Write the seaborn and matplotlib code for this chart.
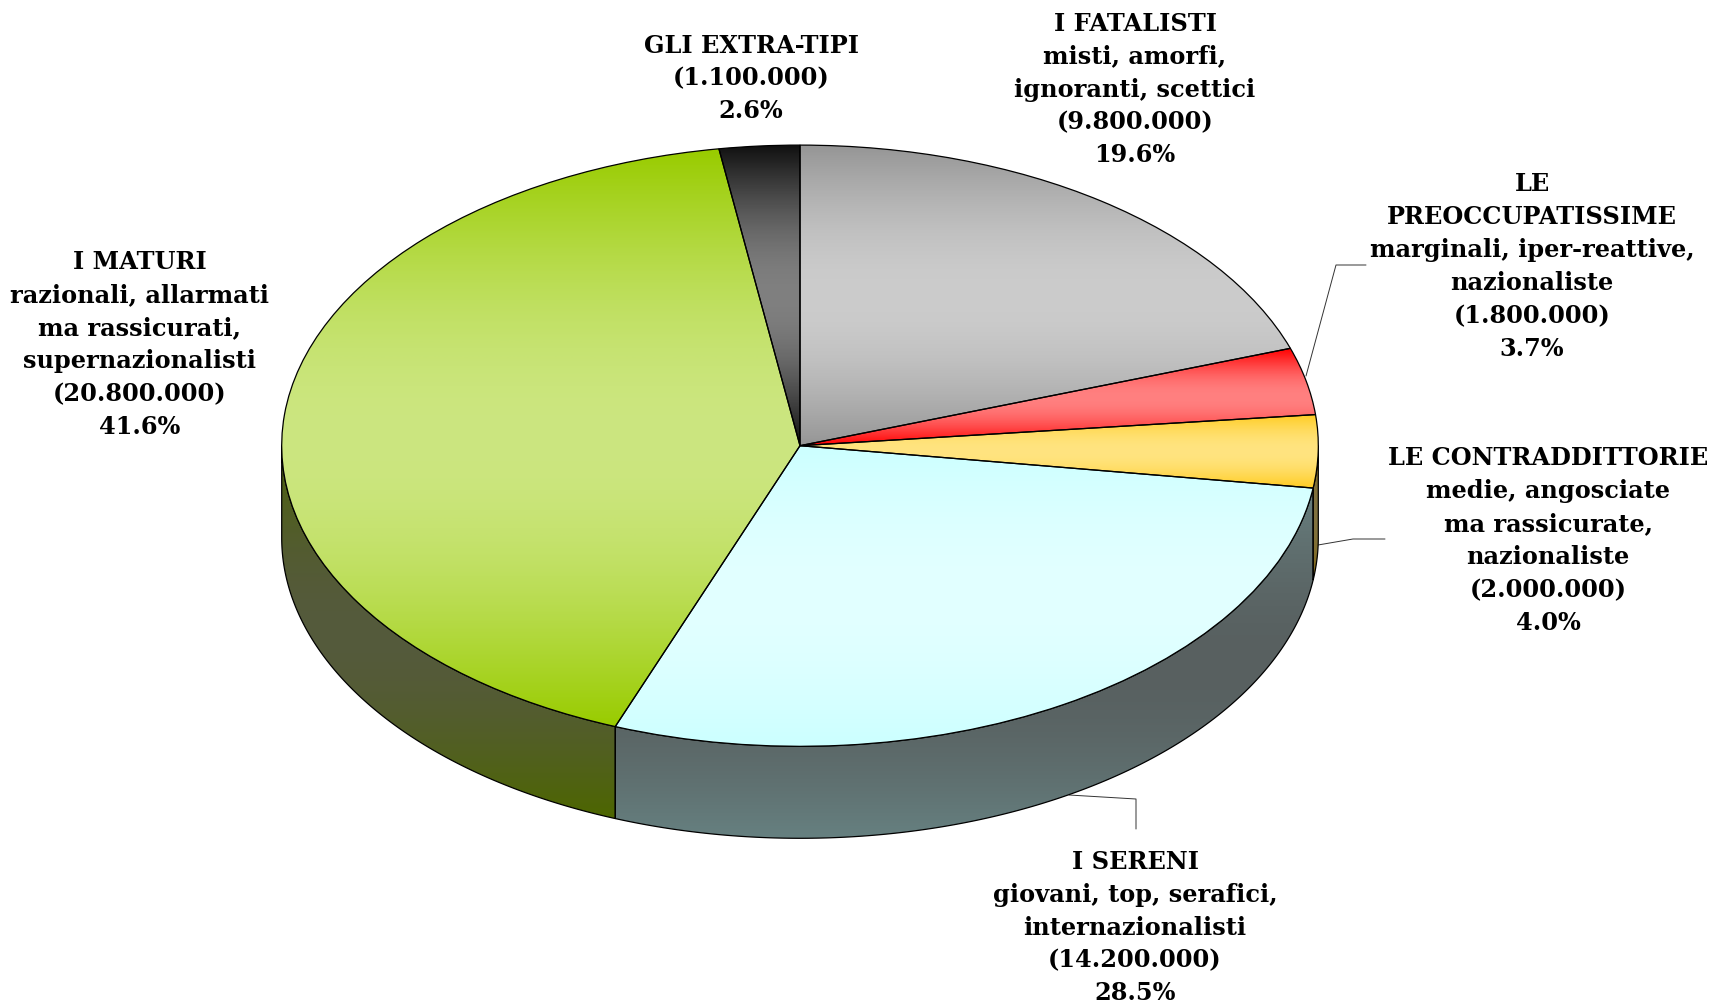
import numpy as np
import matplotlib
matplotlib.use("Agg")
import matplotlib.pyplot as plt
import seaborn as sns

# chart data, clockwise from 12 o'clock
names = ['I FATALISTI', 'LE\nPREOCCUPATISSIME', 'LE CONTRADDITTORIE', 'I SERENI', 'I MATURI', 'GLI EXTRA-TIPI']
descriptions = ['misti, amorfi,\nignoranti, scettici',
                'marginali, iper-reattive,\nnazionaliste',
                'medie, angosciate\nma rassicurate,\nnazionaliste',
                'giovani, top, serafici,\ninternazionalisti',
                'razionali, allarmati\nma rassicurati,\nsupernazionalisti',
                '']
counts = ['9.800.000', '1.800.000', '2.000.000', '14.200.000', '20.800.000', '1.100.000']
percents = [19.6, 3.7, 4.0, 28.5, 41.6, 2.6]
# slice sizes as measured on the picture, they differ a little from the printed percents
slice_shares = [19.75, 3.6, 3.9, 28.55, 41.7, 2.5]

# gradient stops of the top face and of the side wall
top_stops = [['#969696', '#cccccc', '#969696'],
             ['#ff0000', '#ff8080', '#ff0000'],
             ['#ffcc22', '#ffe480', '#ffcc22'],
             ['#ccffff', '#e2ffff', '#ccffff'],
             ['#99cc00', '#cce680', '#99cc00'],
             ['#111111', '#808080', '#111111']]
wall_stops = [['#4b4b4b', '#666666', '#4b4b4b'],
              ['#800000', '#804040', '#800000'],
              ['#806611', '#807240', '#806611'],
              ['#668080', '#586060', '#688080'],
              ['#4d6600', '#555a3c', '#4c6208'],
              ['#111111', '#404040', '#111111']]

W, H = 1711, 1005
CX, CY = 800, 445.7
RX, RY = 518.3, 300.6
DEPTH = 92 / RY

# label centres and leader lines in picture pixels
label_xy = [(1135, 89.5), (1532, 266.5), (1548, 540.5), (1135, 927.5), (140, 344.5), (751, 78.5)]
leaders = [[(1306, 376), (1336, 265), (1366, 265)],
           [(1318, 545), (1353, 539), (1385, 539)],
           [(1069, 795), (1136, 799), (1136, 829)]]


def px(x, y):
    return (x - CX) / RX, (CY - y) / RY


def fill_gradient(ax, patch, stops, zorder):
    cmap = sns.blend_palette(stops, n_colors=256, as_cmap=True)
    box = patch.get_path().get_extents(patch.get_patch_transform())
    # rounded around the middle stop so there is no crease in the band
    g = np.linspace(0, 1, 256)
    v = np.where(g < 0.5, 0.5 * np.sin(np.pi * g), 1 - 0.5 * np.sin(np.pi * g))
    img = ax.imshow(v.reshape(-1, 1), cmap=cmap, origin='lower', aspect='auto', vmin=0, vmax=1,
                    extent=(box.x0, box.x1, box.y0, box.y1), interpolation='bilinear', zorder=zorder)
    img.set_clip_path(patch)


def main():
    sns.set_theme(style='white')
    plt.rcParams['font.family'] = ['DejaVu Serif']

    fig = plt.figure(figsize=(W / 100, H / 100), dpi=100, facecolor='white')
    ax = fig.add_axes([0, 0, 1, 1])

    wedges, _ = ax.pie(slice_shares, startangle=90, counterclock=False, radius=1, center=(0, 0),
                       colors=[s[0] for s in top_stops],
                       wedgeprops=dict(edgecolor='black', linewidth=0.9))

    # side walls, only the part of each slice on the front half
    for wedge, stops in zip(wedges, wall_stops):
        th1 = max(wedge.theta1, -180)
        th2 = min(wedge.theta2, 0)
        if th1 >= th2:
            continue
        t = np.radians(np.linspace(th1, th2, 200))
        xs = np.r_[np.cos(t), np.cos(t[::-1])]
        ys = np.r_[np.sin(t), np.sin(t[::-1]) - DEPTH]
        wall = ax.fill(xs, ys, facecolor='none', edgecolor='black', linewidth=0.9, zorder=0.7)[0]
        fill_gradient(ax, wall, stops, 0.5)

    for wedge, stops in zip(wedges, top_stops):
        wedge.set_facecolor('none')
        wedge.set_zorder(2)
        fill_gradient(ax, wedge, stops, 1)

    for pts in leaders:
        xy = [px(*p) for p in pts]
        ax.plot([p[0] for p in xy], [p[1] for p in xy], color='#333333', lw=0.7, zorder=0.4)

    for name, desc, count, pct, pos in zip(names, descriptions, counts, percents, label_xy):
        lines = [name, desc, '(%s)' % count, '%.1f%%' % pct]
        txt = '\n'.join(l for l in lines if l)
        x, y = px(*pos)
        ax.text(x, y, txt, ha='center', va='center', ma='center', fontsize=17.3,
                fontweight='bold', color='black', linespacing=1.47, zorder=3)

    ax.set_xlim(-CX / RX, (W - CX) / RX)
    ax.set_ylim((CY - H) / RY, CY / RY)
    ax.set_aspect('auto')
    ax.axis('off')

    fig.savefig('out.png', dpi=100)


if __name__ == "__main__":
    main()
